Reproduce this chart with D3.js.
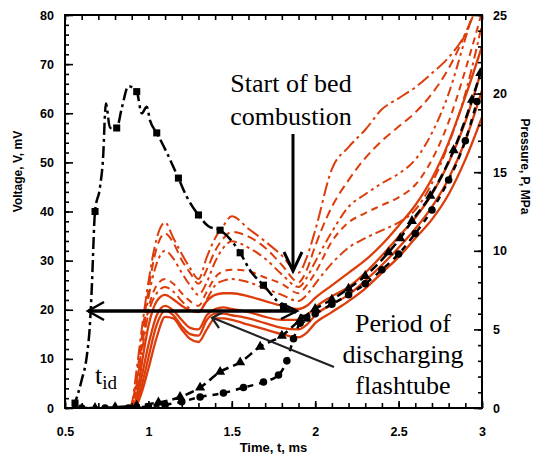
<!DOCTYPE html>
<html><head><meta charset="utf-8">
<script src="https://cdn.jsdelivr.net/npm/d3@7"></script>
<style>body{margin:0;background:#fff}svg{display:block}</style>
</head><body>
<svg id="chart" width="543" height="459"></svg>
<script>
// ---------- data ----------
const xTicks = [0.5, 1, 1.5, 2, 2.5, 3];
const xTickLabels = ["0.5", "1", "1.5", "2", "2.5", "3"];
const vTicks = [0, 10, 20, 30, 40, 50, 60, 70, 80];
const pTicks = [0, 5, 10, 15, 20, 25];

// black voltage trace (mV, left axis)
const voltTime  = [0.55, 0.56, 0.6, 0.63, 0.65, 0.66, 0.68, 0.71, 0.73, 0.74, 0.745, 0.77, 0.81, 0.84, 0.88, 0.93, 0.96, 0.99, 1.01, 1.05, 1.11, 1.18, 1.23, 1.3, 1.36, 1.43, 1.55, 1.61, 1.69, 1.81, 1.88, 1.95];
const voltValue = [0, 1, 5.7, 10.4, 17.3, 24, 40, 45, 52, 60, 62, 57, 57, 61, 65.5, 64.4, 60, 61.3, 58.5, 56, 52, 46.8, 43, 39.3, 37, 36.2, 31.6, 28, 25, 20.6, 19.5, 18.3];
const voltMarkT = [0.56, 0.68, 0.81, 0.93, 1.05, 1.18, 1.3, 1.43, 1.55, 1.69, 1.81, 1.95];
const voltMarkV = [1, 40, 57, 64.4, 56, 46.8, 39.3, 36.2, 31.6, 25, 20.6, 18.3];

// black pressure traces (MPa, right axis)
const pATime  = [0.56, 0.68, 0.8, 0.93, 1.06, 1.19, 1.31, 1.43, 1.55, 1.67, 1.8, 1.91, 2.0, 2.1, 2.2, 2.3, 2.44, 2.51, 2.58, 2.69, 2.83, 2.94, 2.99];
const pAValue = [0, 0, 0.05, 0.15, 0.35, 0.7, 1.3, 2.3, 2.9, 3.9, 4.6, 5.6, 6.3, 6.9, 7.6, 8.4, 9.9, 10.8, 11.9, 13.5, 16.4, 19.6, 21.3];
const pBTime  = [0.6, 0.74, 0.88, 1.0, 1.1, 1.2, 1.31, 1.45, 1.57, 1.69, 1.78, 1.83, 1.87, 1.91, 2.0, 2.1, 2.2, 2.3, 2.4, 2.5, 2.6, 2.7, 2.8, 2.9, 2.97];
const pBValue = [0, 0, 0, 0.1, 0.2, 0.4, 0.7, 0.95, 1.3, 1.65, 2.1, 3.0, 4.4, 5.4, 6.0, 6.6, 7.2, 7.9, 8.8, 9.8, 11.1, 12.6, 14.5, 17.0, 19.5];

// red pressure traces (MPa, right axis), common time base
const redTime = [0.88, 0.9, 0.93, 0.96, 1.0, 1.05, 1.1, 1.15, 1.2, 1.25, 1.3, 1.35, 1.4, 1.45, 1.5, 1.6, 1.7, 1.8, 1.9, 1.95, 2.0, 2.1, 2.2, 2.3, 2.4, 2.5, 2.6, 2.7, 2.8, 2.9, 3.0];
const red1 = [0, 0.3, 2.5, 5, 8, 10.8, 11.8, 10.8, 9.8, 8.9, 8.2, 9.6, 10.8, 11.6, 12.2, 11.4, 10.6, 9.7, 8.6, 9.6, 11.3, 15.2, 16.6, 17.7, 19.0, 19.7, 20.4, 21.3, 22.3, 23.8, 26.5];
const red2 = [0, 0.2, 2.0, 4.5, 7.5, 10.2, 11.1, 10.5, 9.4, 8.6, 7.9, 8.8, 10.0, 10.8, 11.2, 10.9, 10.2, 9.1, 8.0, 8.8, 10.3, 12.8, 14.5, 15.9, 17.0, 17.9, 18.8, 20.0, 21.6, 23.8, 26.5];
const red3 = [0, 0.2, 1.8, 4.2, 7.0, 9.2, 10.0, 9.5, 8.6, 7.8, 7.2, 8.0, 9.3, 10.2, 10.6, 10.2, 9.5, 8.5, 7.7, 8.3, 9.3, 11.2, 12.8, 13.6, 14.3, 14.9, 15.8, 17.5, 20.0, 23.5, 27];
const red4 = [0, 0.1, 1.5, 3.8, 6.3, 7.8, 8.2, 7.9, 7.3, 6.8, 6.5, 7.4, 8.3, 8.7, 8.8, 8.7, 8.3, 7.9, 7.3, 7.8, 8.6, 10.6, 11.8, 12.4, 12.9, 13.4, 14.2, 15.8, 18.2, 21.5, 25.2];
const red5 = [0, 0.1, 1.3, 3.5, 6.0, 7.3, 7.7, 7.4, 6.8, 6.3, 6.1, 6.9, 7.8, 8.1, 8.2, 8.0, 7.6, 7.2, 6.8, 7.2, 7.9, 9.2, 10.2, 10.8, 11.3, 11.8, 12.6, 14.3, 16.8, 20.0, 24.4];
const red6 = [0, 0, 0.8, 2.8, 5.2, 6.8, 7.2, 6.9, 6.5, 6.2, 6.1, 6.8, 7.2, 7.3, 7.3, 7.1, 6.8, 6.5, 6.3, 6.5, 7.0, 7.8, 8.6, 9.4, 10.4, 11.6, 12.9, 14.6, 16.9, 19.8, 23.0];
const red7 = [0, 0, 0.5, 2.0, 4.0, 5.9, 6.5, 6.2, 5.6, 5.1, 5.0, 5.9, 6.3, 6.4, 6.3, 6.1, 5.8, 5.6, 5.6, 5.9, 6.4, 7.1, 7.7, 8.6, 9.7, 10.9, 12.1, 13.6, 15.6, 18.2, 21.6];
const red8 = [0, 0, 0.3, 1.4, 3.2, 5.3, 6.2, 5.9, 5.2, 4.7, 4.6, 5.6, 6.0, 6.0, 5.9, 5.7, 5.4, 5.1, 5.0, 5.3, 5.9, 6.6, 7.2, 8.1, 9.1, 10.2, 11.4, 12.8, 14.6, 17.0, 20.2];
const red9 = [0, 0, 0.2, 1.0, 2.5, 4.5, 5.8, 5.7, 5.0, 4.4, 4.2, 5.0, 5.7, 5.7, 5.6, 5.3, 5.0, 4.7, 4.5, 4.8, 5.4, 6.1, 6.8, 7.6, 8.6, 9.6, 10.8, 12.0, 13.6, 15.8, 18.5];

// ---------- layout ----------
const svg = d3.select("#chart");
const L = 65, R = 482, T = 15, B = 408;
const x  = d3.scaleLinear().domain([0.5, 3]).range([L, R]);
const yV = d3.scaleLinear().domain([0, 80]).range([B, T]);
const yP = d3.scaleLinear().domain([0, 25]).range([B, T]);

const RED = "#dd3d0a";
const tickFont = "'Liberation Sans', Arial, sans-serif";

svg.append("defs").append("clipPath").attr("id", "clip")
  .append("rect").attr("x", L).attr("y", T).attr("width", R - L).attr("height", B - T);

const plot = svg.append("g").attr("clip-path", "url(#clip)");

// red curves
const redSeries = [
  {v: red1, dash: "14,4,3,4", w: 2},
  {v: red2, dash: "9,5", w: 2},
  {v: red3, dash: "10,4,3,4,3,4", w: 2},
  {v: red4, dash: "7,5", w: 2},
  {v: red5, dash: "10,4,3,4", w: 2},
  {v: red6, dash: null, w: 2.3},
  {v: red7, dash: null, w: 2.3},
  {v: red8, dash: null, w: 2.3},
  {v: red9, dash: null, w: 2.3}
];
const redLine = d3.line().x((d, i) => x(redTime[i])).y(d => yP(d)).curve(d3.curveMonotoneX);
redSeries.forEach(s => {
  plot.append("path").attr("d", redLine(s.v)).attr("fill", "none")
    .attr("stroke", RED).attr("stroke-width", s.w)
    .attr("stroke-dasharray", s.dash);
});

// black curves
const lineXY = (ts, sc) => d3.line().x((d, i) => x(ts[i])).y(d => sc(d)).curve(d3.curveMonotoneX);
plot.append("path").attr("d", lineXY(pATime, yP)(pAValue)).attr("fill", "none")
  .attr("stroke", "#000").attr("stroke-width", 2.5).attr("stroke-dasharray", "9,5");
plot.append("path").attr("d", lineXY(pBTime, yP)(pBValue)).attr("fill", "none")
  .attr("stroke", "#000").attr("stroke-width", 2.5).attr("stroke-dasharray", "6,6");
plot.append("path").attr("d", lineXY(voltTime, yV)(voltValue)).attr("fill", "none")
  .attr("stroke", "#000").attr("stroke-width", 2.5).attr("stroke-dasharray", "12,4,3,4");

const sym = (type, size) => d3.symbol().type(type).size(size)();
plot.selectAll(".mv").data(voltMarkV).join("path")
  .attr("d", sym(d3.symbolSquare, 50))
  .attr("transform", (d, i) => `translate(${x(voltMarkT[i])},${yV(d)})`).attr("fill", "#000");
plot.selectAll(".ma").data(pAValue).join("path")
  .attr("d", sym(d3.symbolTriangle, 45))
  .attr("transform", (d, i) => `translate(${x(pATime[i])},${yP(d)})`).attr("fill", "#000");
plot.selectAll(".mb").data(pBValue).join("path")
  .attr("d", sym(d3.symbolCircle, 45))
  .attr("transform", (d, i) => `translate(${x(pBTime[i])},${yP(d)})`).attr("fill", "#000");

// ---------- axes ----------
function styleAxis(g) {
  g.select(".domain").remove();
  g.selectAll("line").attr("stroke", "#000").attr("stroke-width", 1.6);
  g.selectAll("text").attr("font-family", tickFont).attr("font-weight", "bold")
    .attr("font-size", 12.5).attr("fill", "#000");
}
// minor ticks
svg.append("g").attr("transform", `translate(${L},0)`)
  .call(d3.axisLeft(yV).tickValues(d3.range(0, 81, 2)).tickSize(-4).tickFormat(""))
  .call(styleAxis);
svg.append("g").attr("transform", `translate(${R},0)`)
  .call(d3.axisRight(yP).tickValues(d3.range(0, 26, 1)).tickSize(-4).tickFormat(""))
  .call(styleAxis);
svg.append("g").attr("transform", `translate(0,${B})`)
  .call(d3.axisBottom(x).tickValues(d3.range(5, 31).map(d => d / 10)).tickSize(-5).tickFormat(""))
  .call(styleAxis);
svg.append("g").attr("transform", `translate(0,${T})`)
  .call(d3.axisTop(x).tickValues(d3.range(5, 31).map(d => d / 10)).tickSize(-5).tickFormat(""))
  .call(styleAxis);
// major ticks with labels
svg.append("g").attr("transform", `translate(${L},0)`)
  .call(d3.axisLeft(yV).tickValues(vTicks).tickSize(-8).tickPadding(11).tickFormat(d3.format("d")))
  .call(styleAxis);
svg.append("g").attr("transform", `translate(${R},0)`)
  .call(d3.axisRight(yP).tickValues(pTicks).tickSize(-8).tickPadding(11).tickFormat(d3.format("d")))
  .call(styleAxis);
svg.append("g").attr("transform", `translate(0,${B})`)
  .call(d3.axisBottom(x).tickValues(xTicks).tickSize(-7).tickPadding(19).tickFormat((d, i) => xTickLabels[i]))
  .call(styleAxis);

// frame
svg.append("rect").attr("x", L).attr("y", T).attr("width", R - L).attr("height", B - T)
  .attr("fill", "none").attr("stroke", "#000").attr("stroke-width", 2);

// axis titles
svg.append("text").attr("transform", `translate(22,${(T + B) / 2 - 40}) rotate(-90)`)
  .attr("text-anchor", "middle").attr("font-family", tickFont).attr("font-weight", "bold")
  .attr("font-size", 12).text("Voltage, V, mV");
svg.append("text").attr("transform", `translate(521,${(T + B) / 2 - 45}) rotate(90)`)
  .attr("text-anchor", "middle").attr("font-family", tickFont).attr("font-weight", "bold")
  .attr("font-size", 12).text("Pressure, P, MPa");
svg.append("text").attr("x", (L + R) / 2).attr("y", 452)
  .attr("text-anchor", "middle").attr("font-family", tickFont).attr("font-weight", "bold")
  .attr("font-size", 13).text("Time, t, ms");

// ---------- annotations ----------
const serif = "'Liberation Serif', 'Times New Roman', serif";
function ann(lines, cx, y0, dy) {
  const t = svg.append("text").attr("text-anchor", "middle").attr("font-family", serif)
    .attr("font-size", 26).attr("fill", "#000");
  lines.forEach((s, i) => t.append("tspan").attr("x", cx).attr("y", y0 + i * dy).text(s));
}
ann(["Start of bed", "combustion"], 291, 92, 33);
ann(["Period of", "discharging", "flashtube"], 403, 332, 31);

const tid = svg.append("text").attr("x", 95).attr("y", 384).attr("font-family", serif)
  .attr("font-size", 26).attr("fill", "#000");
tid.append("tspan").text("t");
tid.append("tspan").attr("font-size", 19).attr("dy", 5).text("id");

// arrows
const ann_g = svg.append("g").attr("fill", "none").attr("stroke", "#000");
// vertical arrow
ann_g.append("path").attr("d", "M293,134 L293,270").attr("stroke-width", 3);
ann_g.append("path").attr("d", "M284,252 L293,271 L302,252").attr("stroke-width", 3);
// horizontal double arrow
ann_g.append("path").attr("d", "M88,311 L296,311").attr("stroke-width", 3.5);
ann_g.append("path").attr("d", "M104,302 L88,311 L104,320").attr("stroke-width", 2.5);
ann_g.append("path").attr("d", "M281,303 L297,311 L281,319").attr("stroke-width", 2.5);
// diagonal arrow
ann_g.append("path").attr("d", "M334,367 L213,318").attr("stroke-width", 2.2).attr("stroke", "#222");
ann_g.append("path").attr("d", "M223,312 L212,318 L219,328").attr("stroke-width", 2.2).attr("stroke", "#222");
</script>
</body></html>
